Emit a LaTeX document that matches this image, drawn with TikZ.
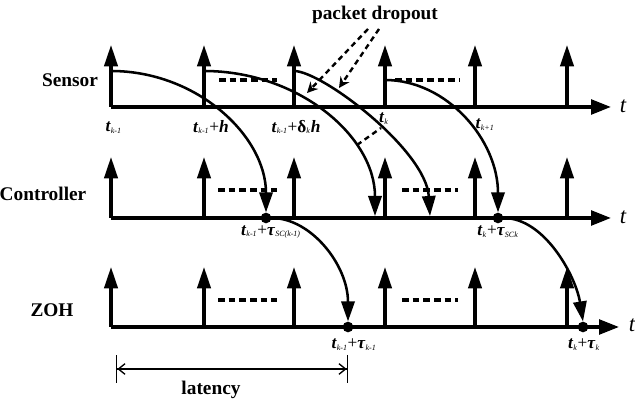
\documentclass[tikz,border=0pt]{standalone}
\usepackage{fontspec}
\setmainfont{Liberation Serif}
\usetikzlibrary{arrows.meta, positioning}

\newcommand{\tsub}[1]{\textbf{\textit{t}}{\fontsize{8}{9}\selectfont\textsubscript{\textit{#1}}}}
\newcommand{\tausub}[1]{\textbf{\textit{τ}}{\fontsize{8}{9}\selectfont\textsubscript{\textit{#1}}}}

\begin{document}
\begin{tikzpicture}[
    x=0.75pt, y=0.75pt,
    font=\fontsize{14.5}{16}\selectfont\bfseries,
    axis/.style={line width=2.6pt, -{Triangle[length=15pt, width=11pt]}},
    impulse/.style={line width=2.3pt, -{Triangle[length=16pt, width=10pt]}},
    flow/.style={line width=1.9pt, -{Triangle[length=15pt, width=10pt]}},
    dots/.style={line width=2.3pt, dash pattern=on 5pt off 3pt},
    drop/.style={line width=1.8pt, dash pattern=on 4pt off 3pt},
    dot/.style={circle, fill, inner sep=0pt, minimum size=8pt},
    tlabel/.style={inner sep=1pt, font=\fontsize{13}{15}\selectfont}
]
    \useasboundingbox (0,0) rectangle (635,402);

    % row names
    \node (sensor) at (70,322) {Sensor};
    \node (ctrl) at (43,208) {Controller};
    \node (zoh) at (52,92) {ZOH};

    % time axes
    \coordinate (sa) at (111,295);
    \coordinate (ca) at (111,184);
    \coordinate (za) at (111,75);
    \coordinate (se) at (611,295);
    \coordinate (ce) at (611,184);
    \coordinate (ze) at (619,75);
    \draw[axis] (sa) -- (se);
    \draw[axis] (ca) -- (ce);
    \draw[axis] (za) -- (ze);
    \node[tlabel, font=\fontsize{17}{18}\selectfont\itshape] (st) at (623,296) {t};
    \node[tlabel, font=\fontsize{17}{18}\selectfont\itshape] (ct) at (623,185) {t};
    \node[tlabel, font=\fontsize{17}{18}\selectfont\itshape] (zt) at (632,77) {t};

    % sampling instants
    \foreach \x [count=\i] in {111,204,294,385,475,567} {
        \coordinate (s\i) at (\x,295);
        \coordinate (c\i) at (\x,184);
        \coordinate (z\i) at (\x,75);
        \draw[impulse] (s\i) -- ++(0,62);
        \draw[impulse] (c\i) -- ++(0,61);
        \draw[impulse] (z\i) -- ++(0,60);
    }

    % dotted gaps
    \draw[dots] (219,322) -- (277,322);
    \draw[dots] (395,322) -- (460,322);
    \draw[dots] (218,212) -- (277,212);
    \draw[dots] (402,212) -- (458,212);
    \draw[dots] (218,102) -- (277,102);
    \draw[dots] (402,102) -- (458,102);

    % arrival points
    \node[dot] (ca1) at (266,184) {};
    \node[dot] (ca2) at (498,184) {};
    \node[dot] (za1) at (348,75) {};
    \node[dot] (za2) at (583,75) {};
    \coordinate (cl1) at (375,186);
    \coordinate (cl2) at (430,186);

    % hold starts
    \coordinate (h1) at (111,331);
    \coordinate (h2) at (204,331);
    \coordinate (h3) at (294,331);
    \coordinate (h4) at (385,322);

    % transmissions
    \draw[flow] (h1) .. controls (197,331) and (266,266) .. (ca1.north);
    \draw[flow] (h2) .. controls (298,331) and (375,266) .. (cl1);
    \draw[flow] (h3) .. controls (322,331) and (426,252) .. (cl2);
    \draw[flow] (h4) .. controls (447,322) and (498,262) .. (ca2.north);
    \draw[flow] (ca1) .. controls (311,184) and (348,137) .. (za1.north);
    \draw[flow] (ca2) .. controls (545,184) and (576,125) .. (za2.north);

    % axis labels
    \node[tlabel, anchor=west] (l1) at (104,274) {\tsub{k-1}};
    \node[tlabel] (l2) at (211,275) {\tsub{k-1}+\textbf{\textit{h}}};
    \node[tlabel] (l3) at (296,275) {\tsub{k-1}+\textbf{δ}{\fontsize{8}{9}\selectfont\textsubscript{\textit{k}}}\textbf{\textit{h}}};
    \node[tlabel] (l4) at (384,283) {\tsub{k}};
    \node[tlabel] (l5) at (485,277) {\tsub{k+1}};
    \node[tlabel] (l6) at (271,170) {\tsub{k-1}+\tausub{SC(k-1)}};
    \node[tlabel] (l7) at (498,170) {\tsub{k}+\tausub{SCk}};
    \node[tlabel] (l8) at (354,57) {\tsub{k-1}+\tausub{k-1}};
    \node[tlabel] (l9) at (584,57) {\tsub{k}+\tausub{k}};

    % packet dropout
    \node (dropout) at (375,387) {packet dropout};
    \coordinate (d1) at (307,309);
    \coordinate (d2) at (339,314);
    \draw[drop, -{Stealth[length=8pt, width=8pt]}] (368,373) -- (d1);
    \draw[drop, -{Stealth[length=8pt, width=8pt]}] (379,373) -- (d2);
    \draw[drop] (357,257) -- (381,274);

    % latency
    \coordinate (latl) at (116,33);
    \coordinate (latr) at (348,33);
    \draw[line width=1pt, {Bar[width=21pt]Straight Barb[length=5pt, width=8pt]}-{Straight Barb[length=5pt, width=8pt]Bar[width=21pt]}] (latl) -- (latr);
    \node (latency) at (211,12) {latency};
\end{tikzpicture}
\end{document}
